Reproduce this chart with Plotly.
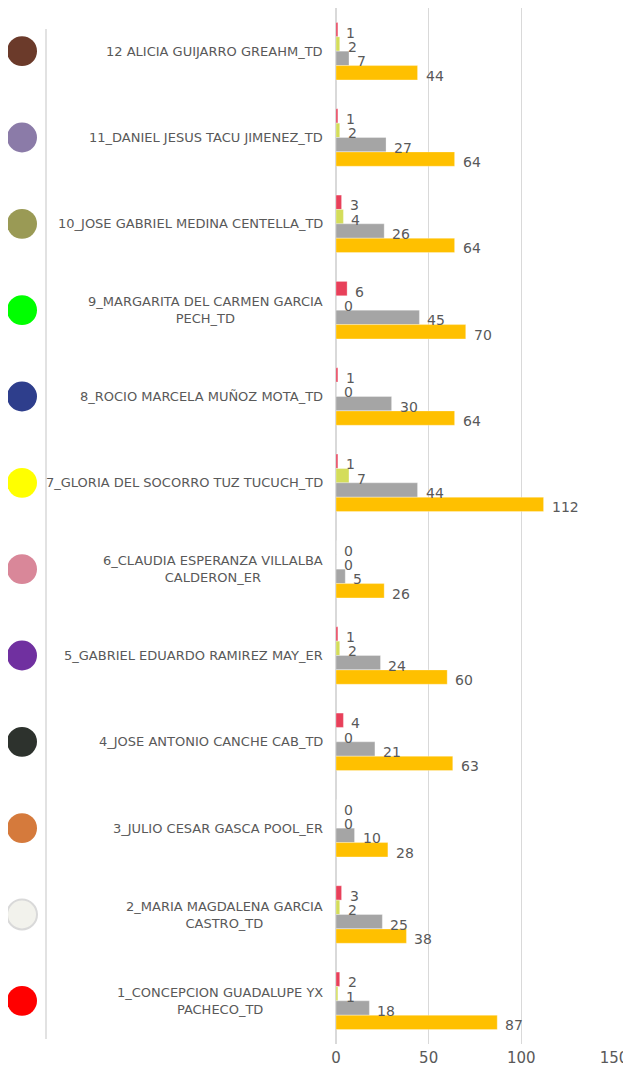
import plotly.graph_objects as go

categories = [
    "1_CONCEPCION GUADALUPE YX<br>PACHECO_TD",
    "2_MARIA MAGDALENA GARCIA<br>CASTRO_TD",
    "3_JULIO CESAR GASCA POOL_ER",
    "4_JOSE ANTONIO CANCHE CAB_TD",
    "5_GABRIEL EDUARDO RAMIREZ MAY_ER",
    "6_CLAUDIA ESPERANZA VILLALBA<br>CALDERON_ER",
    "7_GLORIA DEL SOCORRO TUZ TUCUCH_TD",
    "8_ROCIO MARCELA MUÑOZ MOTA_TD",
    "9_MARGARITA DEL CARMEN GARCIA<br>PECH_TD",
    "10_JOSE GABRIEL MEDINA CENTELLA_TD",
    "11_DANIEL JESUS TACU JIMENEZ_TD",
    "12 ALICIA GUIJARRO GREAHM_TD",
]
series_red = [2, 3, 0, 4, 1, 0, 1, 1, 6, 3, 1, 1]
series_yellow = [1, 2, 0, 0, 2, 0, 7, 0, 0, 4, 2, 2]
series_gray = [18, 25, 10, 21, 24, 5, 44, 30, 45, 26, 27, 7]
series_gold = [87, 38, 28, 63, 60, 26, 112, 64, 70, 64, 64, 44]
circle_colors = ["#FF0000", "#F2F2EC", "#D57A3C", "#2D322D", "#7030A0", "#D98799",
                 "#FFFF00", "#2E3E8C", "#00FF00", "#9A9A55", "#8B7BA8", "#6B3A2A"]
x_ticks = [0, 50, 100, 150]

series = [
    (series_red, "#E8405A", 0.25),
    (series_yellow, "#D4DD5A", 0.083),
    (series_gray, "#A5A5A5", -0.083),
    (series_gold, "#FFC000", -0.25),
]
bar_w = 0.166
txt_color = "#595959"
font_fam = "DejaVu Sans"

fig = go.Figure()
idx = list(range(1, len(categories) + 1))
annotations = []
for vals, col, off in series:
    ys = [i + off for i in idx]
    fig.add_trace(go.Bar(
        x=vals, y=ys, orientation="h", width=bar_w,
        marker=dict(color=col, line=dict(color="rgba(255,255,255,0.6)", width=0.5)),
        showlegend=False, hoverinfo="x",
    ))
    for v, y in zip(vals, ys):
        annotations.append(dict(
            x=v, y=y, xref="x", yref="y", text=str(v), showarrow=False,
            xanchor="left", yanchor="middle", xshift=6, yshift=-3,
            font=dict(family=font_fam, size=14, color=txt_color),
        ))

for i, cat in zip(idx, categories):
    annotations.append(dict(
        x=-0.04, y=i, xref="paper", yref="y", text=cat, showarrow=False,
        xanchor="right", yanchor="middle", align="center",
        font=dict(family=font_fam, size=13, color=txt_color),
    ))

shapes = []
px_w = 278.0
r_y = 15 / 86.6
for i, c in zip(idx, circle_colors):
    border = "#D9D9D9" if c == "#F2F2EC" else c
    shapes.append(dict(
        type="circle", xref="paper", yref="y",
        x0=(7 - 336) / px_w, x1=(37 - 336) / px_w,
        y0=i - r_y, y1=i + r_y,
        fillcolor=c, line=dict(color=border, width=2 if c == "#F2F2EC" else 0),
    ))
shapes.append(dict(
    type="line", xref="paper", yref="paper",
    x0=(46 - 336) / px_w, x1=(46 - 336) / px_w,
    y0=(1047 - 1042) / 1039, y1=(1047 - 29) / 1039,
    line=dict(color="#D9D9D9", width=1.5),
))

fig.update_layout(
    width=623, height=1059,
    margin=dict(l=328, r=17, t=0, b=20),
    paper_bgcolor="white", plot_bgcolor="white",
    barmode="overlay",
    xaxis=dict(range=[0, 150], tickvals=x_ticks, showgrid=True, gridcolor="#D9D9D9",
               gridwidth=1, zeroline=True, zerolinecolor="#D9D9D9", showline=False,
               tickfont=dict(family=font_fam, size=15, color=txt_color), ticks="",
               ticklabelstandoff=3),
    yaxis=dict(range=[0.5, 12.5], showticklabels=False, showgrid=False, zeroline=False,
               showline=False, ticks=""),
    annotations=annotations,
    shapes=shapes,
)

fig.write_html("out.html", config={"displayModeBar": False})
